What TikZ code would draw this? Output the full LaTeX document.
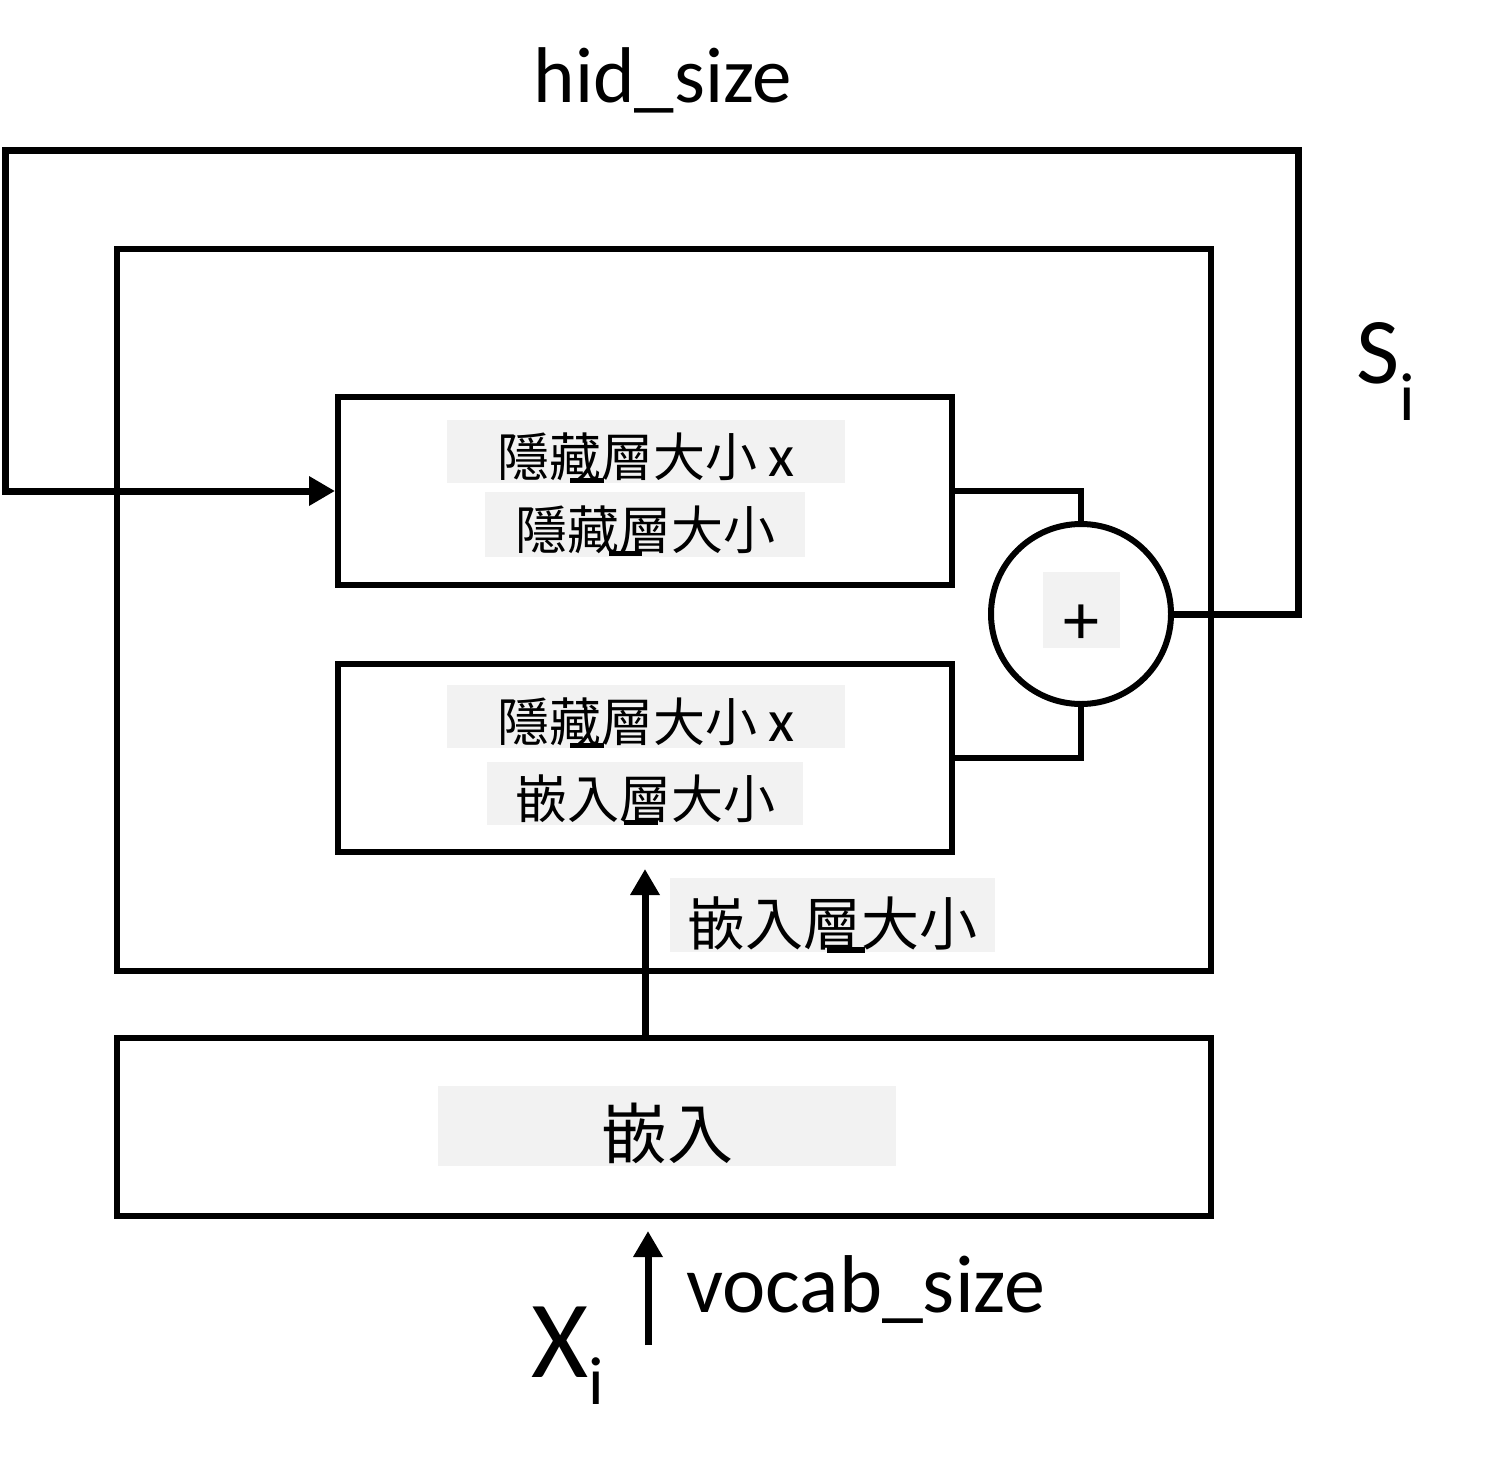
\documentclass[tikz,border=0pt]{standalone}
\usepackage{fontspec}
\setmainfont{Carlito}
\newfontfamily\cjk{Noto Sans CJK TC}
\usetikzlibrary{arrows.meta}
\tikzstyle{layer}=[draw, line width=6pt, inner sep=0pt]
\tikzstyle{greybg}=[fill=black!5, inner sep=0pt, text depth=7pt, font=\fontsize{52}{60}\selectfont]
\tikzstyle{wire}=[line width=6pt]
\tikzstyle{feedback}=[line width=7pt, -{Triangle[length=26pt, width=28pt]}]
\tikzstyle{label}=[inner sep=0pt, font=\fontsize{79}{90}\selectfont]
\newcommand\cjkbar[2][0em]{\makebox[0pt][l]{\hspace{#1}\rule[-0.14em]{0.65em}{0.1em}}#2}

\begin{document}
\begin{tikzpicture}[x=1pt, y=-1pt]
  \useasboundingbox (0,0) rectangle (1506,1472);
  % boxes
  \node[layer, minimum width=1094, minimum height=722] (rnn) at (664,610) {};
  \node[layer, minimum width=614, minimum height=188] (upbox) at (645,491) {};
  \node[layer, minimum width=614, minimum height=188] (lobox) at (645,758) {};
  \node[layer, minimum width=1094, minimum height=178] (embed) at (664,1127) {};
  \node[layer, circle, minimum size=180] (sum) at (1081,614) {};
  % texts
  \node[greybg, minimum width=398, text height=56pt] (up1) at (646,451.5)
    {{\cjk 隱\cjkbar[0.4em]{藏}層大小} {\fontsize{60}{60}\selectfont x}};
  \node[greybg, minimum width=320, text height=57pt, text depth=8pt] (up2) at (645,524.5)
    {\cjk 隱藏\cjkbar[-0.2em]{層}大小};
  \node[greybg, minimum width=398, text height=56pt] (lo1) at (646,716.5)
    {{\cjk 隱\cjkbar[0.4em]{藏}層大小} {\fontsize{60}{60}\selectfont x}};
  \node[greybg, minimum width=316, text height=56pt] (lo2) at (645,793.5)
    {\cjk 嵌入\cjkbar[0.1em]{層}大小};
  \node[greybg, minimum width=77, text height=72pt, text depth=4pt, font=\fontsize{72}{72}\selectfont] (plus) at (1081,610) {+};
  \node[greybg, minimum width=325, text height=67pt, font=\fontsize{58}{60}\selectfont] (embsize) at (832,915)
    {\cjk 嵌入\cjkbar[0.42em]{層}大小};
  \node[greybg, minimum width=458, text height=72pt, text depth=8pt, font=\fontsize{66}{70}\selectfont] (embtext) at (667,1126)
    {\cjk 嵌入\hspace{14pt}};
  \node[label, anchor=base] (hid) at (663,102) {hid\_size};
  \node[label, anchor=base west, font=\fontsize{82}{90}\selectfont] (vocab) at (686,1312) {vocab\_size};
  \node[label, anchor=base west, font=\fontsize{94}{100}\selectfont] (state) at (1356,383)
    {S\raisebox{-37pt}{\fontsize{68}{68}\selectfont i}};
  \node[label, anchor=base west, font=\fontsize{110}{120}\selectfont] (input) at (531,1377)
    {X\raisebox{-27pt}{\fontsize{68}{68}\selectfont i}};
  % connectors
  \draw[wire] (upbox.east) -| (sum.north);
  \draw[wire] (lobox.east) -| (sum.south);
  \draw[feedback] (sum.east) -| (1298,150) -| (5,491) -- (upbox.west);
  \draw[feedback, shorten >=14pt] (lobox.south |- embed.north) -- (lobox.south);
  \coordinate (xin) at (648,1345);
  \draw[feedback, shorten >=12pt] (xin) -- (xin |- embed.south);
\end{tikzpicture}
\end{document}
